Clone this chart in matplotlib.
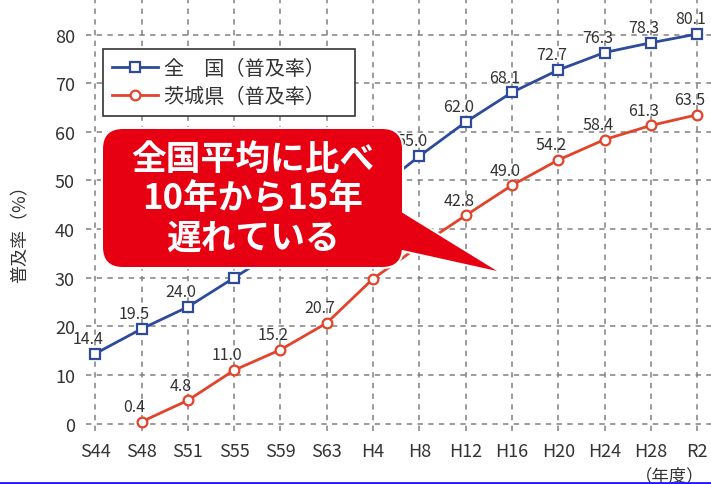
import matplotlib
matplotlib.use("Agg")
import matplotlib.pyplot as plt
import numpy as np
from matplotlib.patches import FancyBboxPatch, Polygon
from matplotlib.transforms import IdentityTransform
from matplotlib.lines import Line2D

plt.rcParams['font.family'] = ['Noto Sans CJK JP', 'DejaVu Sans']

categories = ['S44', 'S48', 'S51', 'S55', 'S59', 'S63', 'H4', 'H8',
              'H12', 'H16', 'H20', 'H24', 'H28', 'R2']
national = [14.4, 19.5, 24.0, 30.0, 36.0, 42.0, 47.5, 55.0,
            62.0, 68.1, 72.7, 76.3, 78.3, 80.1]
ibaraki = [np.nan, 0.4, 4.8, 11.0, 15.2, 20.7, 29.8, 36.5,
           42.8, 49.0, 54.2, 58.4, 61.3, 63.5]
# labels hidden behind the callout in the reference
national_label_shown = [1, 1, 1, 0, 0, 0, 0, 1, 1, 1, 1, 1, 1, 1]
ibaraki_label_shown = [0, 1, 1, 1, 1, 1, 0, 0, 1, 1, 1, 1, 1, 1]
yticks = [0, 10, 20, 30, 40, 50, 60, 70, 80]
legend_labels = ['全　国（普及率）　', '茨城県（普及率）　']
callout_text = '全国平均に比べ\n10年から15年\n遅れている'

W, H = 711, 485
fig = plt.figure(figsize=(W / 100, H / 100), dpi=100)
fig.patch.set_facecolor('white')
ax = fig.add_axes([86 / W, 53 / H, (W - 86) / W, (H - 53) / H])

blue = '#2E4A9A'
red = '#E3432A'
x = np.arange(len(categories))

ax.plot(x, national, color=blue, lw=2.0, marker='s', ms=7.5,
        mfc='white', mec=blue, mew=1.6, label=legend_labels[0], zorder=3)
ax.plot(x, ibaraki, color=red, lw=2.0, marker='o', ms=7,
        mfc='white', mec=red, mew=1.6, label=legend_labels[1], zorder=3)

for xi, v, s in zip(x, national, national_label_shown):
    if s:
        ax.annotate(f'{v:.1f}', (xi, v), xytext=(-5, 11), textcoords='offset points',
                    ha='center', va='center', fontsize=11.5, color='#333333', zorder=4)
for xi, v, s in zip(x, ibaraki, ibaraki_label_shown):
    if s and not np.isnan(v):
        ax.annotate(f'{v:.1f}', (xi, v), xytext=(-5, 11), textcoords='offset points',
                    ha='center', va='center', fontsize=11.5, color='#333333', zorder=4)

ax.set_xlim(-0.2, 13.3)
ax.set_ylim(-1.5, 87.3)
ax.set_xticks(x)
ax.set_xticklabels(categories)
ax.set_yticks(yticks)
ax.tick_params(length=0, labelsize=13, labelcolor='#333333')
ax.tick_params(axis='y', pad=8)
ax.tick_params(axis='x', pad=8)
for s in ax.spines.values():
    s.set_visible(False)
ax.grid(True, color='#808080', lw=1.1, linestyle=(0, (3.5, 3.5)))
ax.set_axisbelow(True)

leg = ax.legend(loc='upper left', bbox_to_anchor=(103 / W, 1 - 50 / H),
                bbox_transform=fig.transFigure, borderaxespad=0,
                fancybox=False, framealpha=1, edgecolor='#333333',
                fontsize=14.5, handlelength=2.3, labelspacing=0.35,
                borderpad=0.45, handletextpad=0.3)
leg.get_frame().set_linewidth(1.2)
for t in leg.get_texts():
    t.set_color('#333333')

fig.text(20 / W, 1 - 230 / H, '普及率（%）', rotation=90, ha='center',
         va='center', fontsize=13, color='#333333')
fig.text(670 / W, 1 - 476 / H, '（年度）', ha='center', va='center',
         fontsize=12.5, color='#333333')

# Callout (pixel coordinates, origin top-left converted to display)
def P(px, py):
    return (px, H - py)

cred = '#E60012'
bx0, by0, bx1, by1 = 103, 130, 402, 268
ptr = [P(380, 200), P(497, 272), P(380, 246)]
for zo, ec, lw, fill in [(10, 'white', 3.0, cred), (11, 'none', 0, cred)]:
    box = FancyBboxPatch(P(bx0, by1), bx1 - bx0, by1 - by0,
                         boxstyle='round,pad=0,rounding_size=20',
                         transform=IdentityTransform(), facecolor=fill,
                         edgecolor=ec, lw=lw, zorder=zo)
    fig.add_artist(box)
    poly = Polygon(ptr, closed=True, transform=IdentityTransform(),
                   facecolor=fill, edgecolor=ec, lw=lw, zorder=zo)
    fig.add_artist(poly)

fig.text(253 / W, 1 - 199 / H, callout_text, ha='center', va='center',
         fontsize=25, color='white', fontweight='bold', linespacing=1.15,
         zorder=12)

fig.add_artist(Line2D([0, 1], [1.5 / H, 1.5 / H], transform=fig.transFigure,
                      color='#1a1aff', lw=2, zorder=20))

fig.savefig('out.png', dpi=100, facecolor='white')
